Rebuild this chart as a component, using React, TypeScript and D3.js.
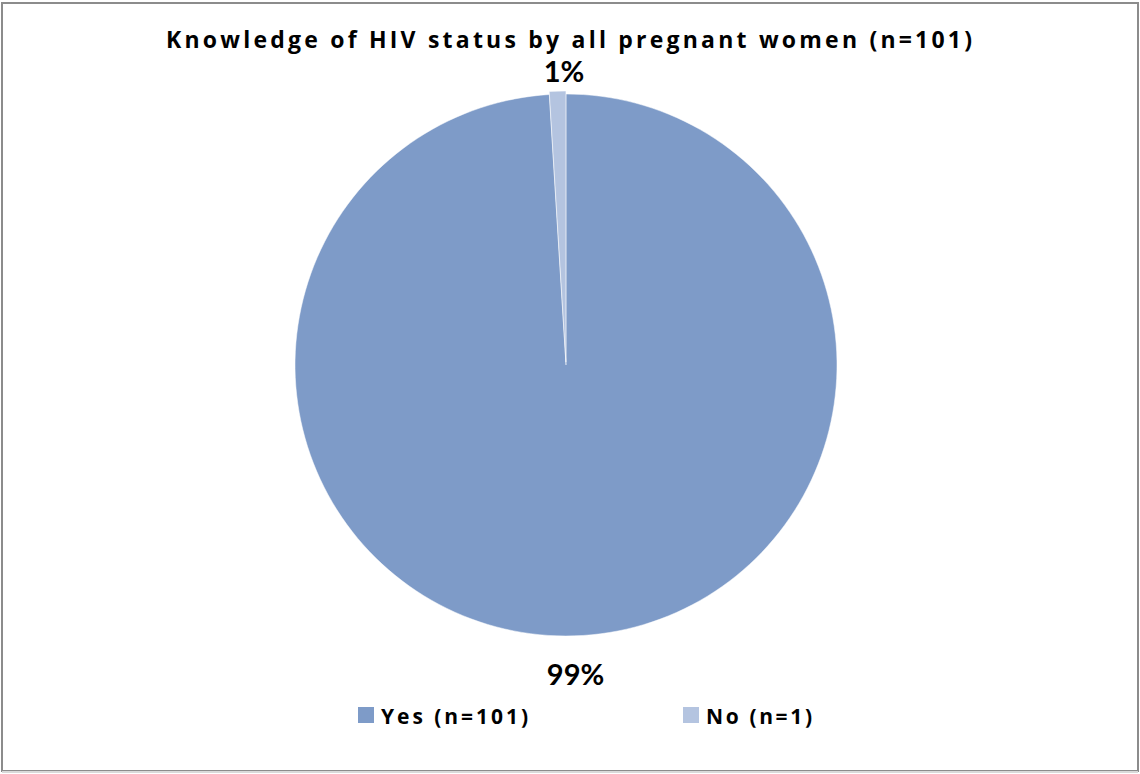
import React from "react";
import * as d3 from "d3";

const categories = ["Yes (n=101)", "No (n=1)"];
const values = [101, 1];
const percentLabels = ["99%", "1%"];
const colors = ["#7E9BC8", "#B4C4E0"];
const title = "Knowledge of HIV status by all pregnant women (n=101)";

const W = 1140;
const H = 774;
const cx = 566;
const cy = 365;
const R = 271;

export default function App() {
  const pie = d3.pie<number>().sort(null).value((d) => d)(values);
  const arc = d3.arc<d3.PieArcDatum<number>>().innerRadius(0).outerRadius(R);
  const explode = [0, 3];
  const labelR = [309, 295];
  const legendX = [358, 683];
  const legendW = [147, 106];

  return (
    <svg
      width={W}
      height={H}
      style={{ position: "absolute", left: 0, top: 0, fontFamily: "Lato, 'Open Sans', sans-serif" }}
    >
      <rect x={0} y={0} width={W} height={H} fill="#fff" />
      <rect x={2} y={3} width={1136} height={768} fill="#fff" stroke="#8c8c8c" strokeWidth={2} />
      <line x1={2} y1={772} x2={1138} y2={772} stroke="#d9d9d9" strokeWidth={2} />
      <text
        x={166}
        y={48}
        fontSize={23}
        fontWeight="bold"
        fontFamily="'Open Sans', sans-serif"
        textLength={806}
        lengthAdjust="spacing"
        fill="#000"
      >
        {title}
      </text>
      <g transform={`translate(${cx},${cy})`}>
        {pie.map((p, i) => {
          const mid = (p.startAngle + p.endAngle) / 2;
          const dx = Math.sin(mid) * explode[i];
          const dy = -Math.cos(mid) * explode[i];
          return (
            <path
              key={i}
              d={arc(p) || ""}
              fill={colors[i]}
              transform={`translate(${dx},${dy})`}
              stroke="#fff"
              strokeWidth={0.5}
            />
          );
        })}
        {pie.map((p, i) => {
          const mid = (p.startAngle + p.endAngle) / 2;
          const lx = Math.sin(mid) * labelR[i];
          const ly = -Math.cos(mid) * labelR[i];
          const adjX = i === 1 ? 7 : 0;
          return (
            <text
              key={i}
              x={lx + adjX}
              y={ly}
              textAnchor="middle"
              dominantBaseline="central"
              fontSize={29}
              fontWeight="bold"
              fill="#000"
            >
              {percentLabels[i]}
            </text>
          );
        })}
      </g>
      <g>
        {categories.map((c, i) => (
          <g key={c}>
            <rect x={legendX[i]} y={707} width={16} height={16} fill={colors[i]} />
            <text
              x={legendX[i] + 23}
              y={724}
              fontSize={21}
              fontWeight="bold"
              fontFamily="'Open Sans', sans-serif"
              textLength={legendW[i]}
              lengthAdjust="spacing"
              fill="#000"
            >
              {c}
            </text>
          </g>
        ))}
      </g>
    </svg>
  );
}
